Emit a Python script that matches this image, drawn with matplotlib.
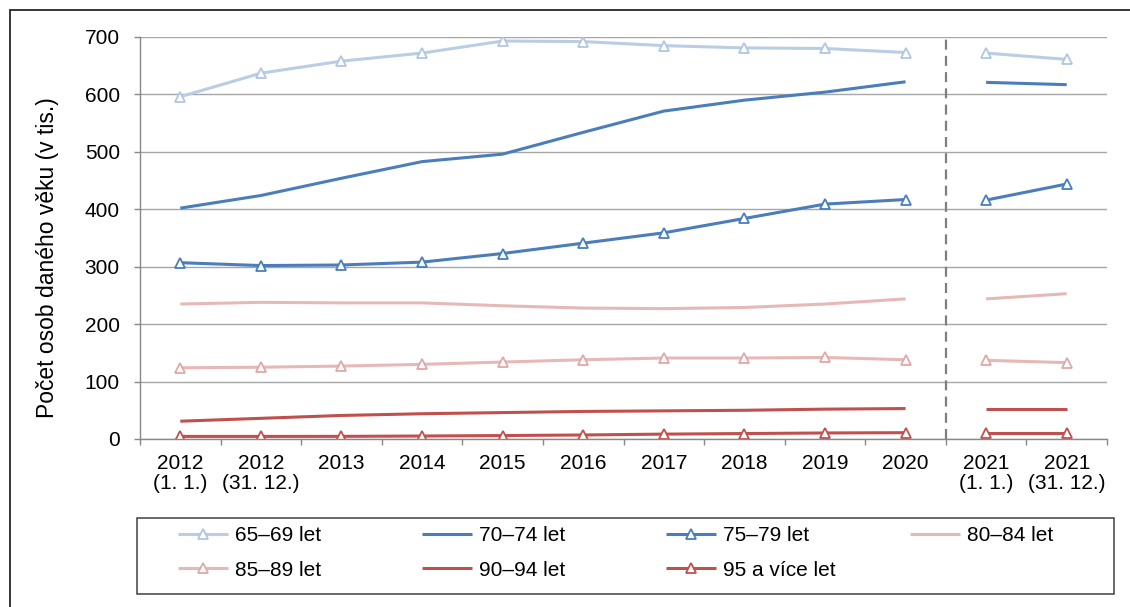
import matplotlib
matplotlib.use("Agg")
import matplotlib.pyplot as plt
from matplotlib.patches import Rectangle
import numpy as np

plt.rcParams['font.family'] = ['Liberation Sans', 'DejaVu Sans']

categories = ["2012\n(1. 1.)", "2012\n(31. 12.)", "2013", "2014", "2015", "2016",
              "2017", "2018", "2019", "2020", "2021\n(1. 1.)", "2021\n(31. 12.)"]
s65_69 = [596, 637, 658, 672, 693, 692, 685, 681, 680, 673, 672, 661]
s70_74 = [402, 424, 454, 483, 496, 534, 571, 590, 604, 622, 621, 617]
s75_79 = [307, 302, 303, 308, 323, 341, 359, 384, 409, 417, 416, 444]
s80_84 = [235, 238, 237, 237, 232, 228, 227, 229, 235, 244, 244, 253]
s85_89 = [124, 125, 127, 130, 134, 138, 141, 141, 142, 138, 137, 133]
s90_94 = [31, 36, 41, 44, 46, 48, 49, 50, 52, 53, 53, 53]
s95 = [4.5, 4.5, 4.6, 5.2, 6.0, 7.0, 8.5, 9.5, 10.5, 11, 11, 11]
series_labels = ["65–69 let", "70–74 let", "75–79 let", "80–84 let",
                 "85–89 let", "90–94 let", "95 a více let"]
yticks = [0, 100, 200, 300, 400, 500, 600, 700]
ylabel = "Počet osob daného věku (v tis.)"
break_after = 10  # first 10 points form one segment, the rest another

W, H = 1130, 607
fig = plt.figure(figsize=(W / 100, H / 100), dpi=100)
fx = lambda px: px / W
fy = lambda py: 1 - py / H

ax = fig.add_axes([fx(140), fy(439), (1107 - 140) / W, (439 - 37) / H])

styles = [
    dict(color="#B9CDE5", marker="^", mec="#B0C6E2"),
    dict(color="#4A7EBB", marker=None, mec=None),
    dict(color="#4A7EBB", marker="^", mec="#4A7EBB"),
    dict(color="#E6B9B8", marker=None, mec=None),
    dict(color="#E6B9B8", marker="^", mec="#E0A8A7"),
    dict(color="#C0504D", marker=None, mec=None),
    dict(color="#C0504D", marker="^", mec="#C0504D"),
]
all_series = [s65_69, s70_74, s75_79, s80_84, s85_89, s90_94, s95]
x = np.arange(len(categories))
handles = []
for vals, st, lab in zip(all_series, styles, series_labels):
    vals = np.array(vals, dtype=float)
    kw = dict(color=st["color"], lw=2.2, solid_capstyle="butt")
    if st["marker"]:
        kw.update(marker="^", ms=7.2, mfc="white", mec=st["mec"], mew=1.3)
    h, = ax.plot(x[:break_after], vals[:break_after], label=lab, **kw)
    ax.plot(x[break_after:], vals[break_after:], **kw)
    handles.append(h)

ax.set_xlim(-0.5, len(categories) - 0.5)
ax.set_ylim(0, 700)
ax.set_yticks(yticks)
ax.set_yticklabels([str(v) for v in yticks])
ax.set_xticks(x)
ax.set_xticklabels(categories, linespacing=1.05)
ax.set_xticks(np.arange(-0.5, len(categories), 1.0), minor=True)
ax.tick_params(axis="x", which="major", length=0, pad=11, labelsize=15, labelcolor="black")
ax.tick_params(axis="x", which="minor", length=4.5, width=1, color="#888888", direction="out")
ax.tick_params(axis="y", length=4.5, width=1, color="#888888", pad=10, labelsize=15, labelcolor="black")

ax.grid(axis="y", color="#A6A6A6", lw=1)
ax.set_axisbelow(True)
for side in ["top", "right"]:
    ax.spines[side].set_visible(False)
for side in ["left", "bottom"]:
    ax.spines[side].set_color("#888888")
    ax.spines[side].set_linewidth(1)

ax.axvline(9.5, color="#7F7F7F", lw=1.6, dashes=(4.5, 2.8), zorder=1.5)

fig.text(fx(48), fy(258), ylabel, rotation=90, ha="center", va="center", fontsize=16.5)

# legend: row-wise order (matplotlib fills columns first)
order = [0, 4, 1, 5, 2, 6, 3]
leg = fig.legend([handles[i] for i in order], [series_labels[i] for i in order],
                 ncol=4, loc="upper left",
                 bbox_to_anchor=(fx(178), fy(526)), frameon=False, borderpad=0,
                 borderaxespad=0, handlelength=2.4, handletextpad=0.34,
                 labelspacing=0.75, columnspacing=0, fontsize=15)
try:
    for col in leg._legend_handle_box.get_children():
        col.align = "left"
        col.width = 244
except Exception:
    pass

fig.add_artist(Rectangle((fx(137), fy(594)), (1114 - 137) / W, (594 - 518) / H,
                         transform=fig.transFigure, fill=False, ec="#404040", lw=1.1))
# outer frame
fig.add_artist(Rectangle((fx(9.5), -0.1), 1.2, fy(10) + 0.1,
                         transform=fig.transFigure, fill=False, ec="#262626", lw=1.3,
                         clip_on=False))

fig.savefig("out.png", dpi=100)
